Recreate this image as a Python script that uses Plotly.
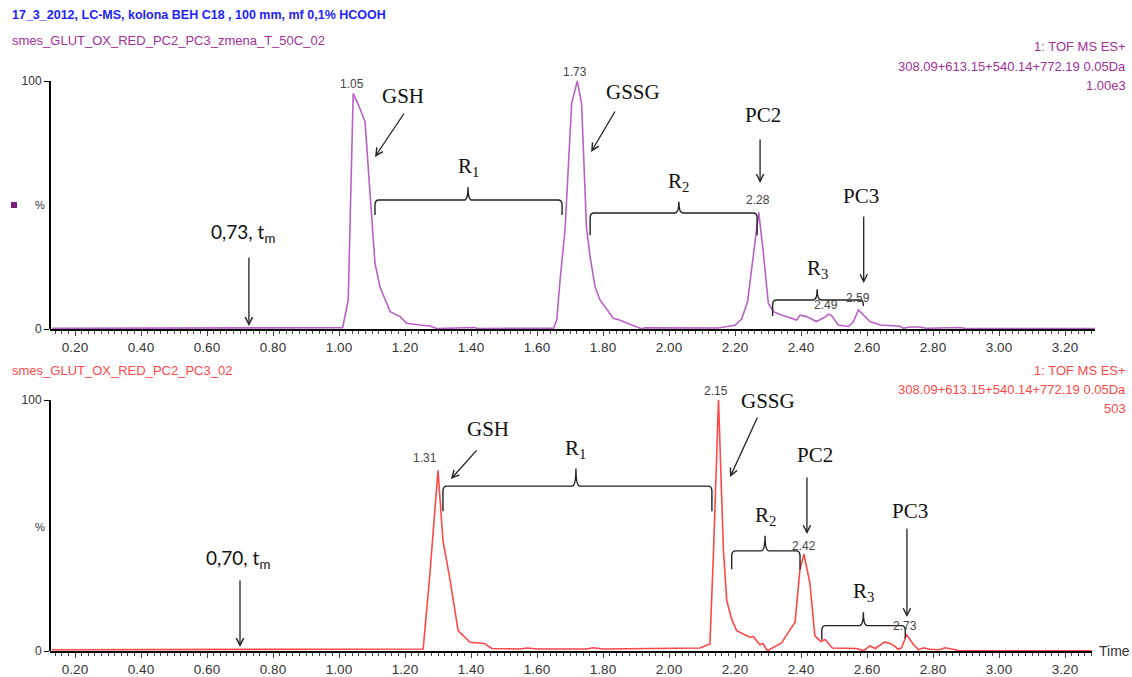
import plotly.graph_objects as go

W, H = 1132, 677

# ---------------- data ----------------
top_time = [0.13, 1.00, 1.011, 1.028, 1.033, 1.043, 1.06, 1.079, 1.094, 1.102, 1.109, 1.124,
            1.155, 1.185, 1.205, 1.245, 1.276, 1.296, 1.38, 1.41, 1.42, 1.65, 1.66, 1.67,
            1.685, 1.705, 1.722, 1.735, 1.75, 1.761, 1.776, 1.791, 1.831, 1.85, 1.887, 1.917,
            1.927, 1.98, 1.99, 2.149, 2.20, 2.22, 2.238, 2.256, 2.265, 2.272, 2.286, 2.301,
            2.316, 2.341, 2.387, 2.397, 2.417, 2.447, 2.475, 2.483, 2.492, 2.513, 2.544, 2.559,
            2.574, 2.589, 2.609, 2.64, 2.70, 2.71, 2.73, 2.76, 2.78, 2.85, 2.88, 2.90, 3.29]
top_intensity = [0.3, 0.3, 0.5, 11.7, 41, 95, 90, 83.6, 54.7, 40, 26.5, 17,
                 7, 5, 2.3, 1.6, 1.2, 0.2, 0.6, 0.6, 0.2, 0.3, 3.7, 19.8,
                 40, 91, 100, 91, 41, 29, 17, 11.7, 4.3, 3.6, 1.6, 0.1,
                 0.5, 0.5, 0.2, 0.4, 1.5, 4, 11, 30, 40, 47, 30.5, 10.4,
                 7, 5.6, 3.6, 5.6, 5, 3, 5, 6, 5.5, 1.6, 1, 3,
                 7.7, 5.6, 3, 1.6, 1.1, 0.3, 0.8, 0.8, 0.3, 0.5, 0.6, 0.2, 0.2]

bot_time = [0.13, 1.255, 1.275, 1.30, 1.315, 1.336, 1.361, 1.397, 1.44, 1.463, 1.55, 1.57,
            1.60, 1.75, 1.77, 1.80, 2.094, 2.124, 2.135, 2.15, 2.165, 2.175, 2.19, 2.205,
            2.245, 2.255, 2.276, 2.285, 2.298, 2.341, 2.362, 2.382, 2.397, 2.409, 2.427, 2.442,
            2.46, 2.473, 2.495, 2.569, 2.59, 2.609, 2.625, 2.654, 2.674, 2.695, 2.705, 2.72,
            2.74, 2.756, 2.771, 2.79, 2.82, 2.836, 2.86, 2.88, 3.282]
bot_intensity = [0.5, 0.8, 30, 72, 44, 28.7, 8.1, 3.5, 3, 1, 0.8, 1.2,
                 0.8, 0.8, 1.3, 0.8, 1.2, 2.8, 40, 100, 40, 20, 12.7, 8.1,
                 5.5, 5.8, 2.5, 3, 0.1, 3.2, 7.5, 11.5, 32.7, 38.6, 27, 6,
                 3.8, 4.6, 1.2, 1, 0.1, 2, 1, 3.6, 2.8, 0.7, 1.3, 6.6,
                 2.7, 0.5, 1.3, 0.7, 0.5, 1.3, 0.7, 0.1, 0.1]

x_tick_values = [0.2, 0.4, 0.6, 0.8, 1.0, 1.2, 1.4, 1.6, 1.8, 2.0, 2.2, 2.4, 2.6, 2.8, 3.0, 3.2]
x_tick_labels = ["0.20", "0.40", "0.60", "0.80", "1.00", "1.20", "1.40", "1.60", "1.80",
                 "2.00", "2.20", "2.40", "2.60", "2.80", "3.00", "3.20"]

# peak retention-time labels
top_peak_text = ["1.05", "1.73", "2.28", "2.49", "2.59"]
top_peak_x = [1.039, 1.715, 2.27, 2.476, 2.573]
top_peak_y = [98.8, 103.6, 52, 9.7, 12.5]
bot_peak_text = ["1.31", "2.15", "2.42", "2.73"]
bot_peak_x = [1.261, 2.142, 2.41, 2.715]
bot_peak_y = [76.9, 103.6, 41.8, 10.0]

# compound labels: text, x, y ; arrows: head x, head y, tail x, tail y
top_names = [("GSH", 1.194, 94), ("GSSG", 1.89, 95.6), ("PC2", 2.285, 86.3), ("PC3", 2.582, 53.6)]
top_arrows = [(1.109, 69.4, 1.20, 87.5), (1.764, 71.4, 1.839, 88.3), (2.276, 58.9, 2.276, 77),
              (2.59, 18.5, 2.59, 46), (0.727, 1.2, 0.727, 29.4)]
bot_names = [("GSH", 1.452, 88.4), ("GSSG", 2.30, 99.6), ("PC2", 2.442, 78), ("PC3", 2.73, 55.8)]
bot_arrows = [(1.339, 68.5, 1.421, 80.5), (2.185, 69.3, 2.27, 93.6), (2.418, 46.6, 2.418, 69.7),
              (2.721, 13.5, 2.721, 49.4), (0.70, 1.6, 0.70, 28.7)]

# resolution braces: label, x1, x2, xmid, y, left drop, right drop, tip height
top_braces = [("R<sub>1</sub>", 1.109, 1.676, 1.391, 52, 6, 6, 5.2),
              ("R<sub>2</sub>", 1.761, 2.267, 2.03, 46.8, 9, 9, 4.5),
              ("R<sub>3</sub>", 2.314, 2.589, 2.449, 11.7, 6.5, 2.4, 4.3)]
bot_braces = [("R<sub>1</sub>", 1.315, 2.13, 1.718, 65.7, 10, 10, 7),
              ("R<sub>2</sub>", 2.19, 2.397, 2.291, 39.9, 7.3, 7.3, 6),
              ("R<sub>3</sub>", 2.463, 2.716, 2.589, 10.1, 5.6, 5, 5.3)]

t0_top = ("0,73, t<sub>m</sub>", 0.709, 38.7)
t0_bot = ("0,70, t<sub>m</sub>", 0.694, 36.7)

# ---------------- styling ----------------
PURPLE = "#B961C6"
PURPLE_TXT = "#A0309A"
RED = "#FF4848"
BLUE = "#1E1EFF"
SANS = "Liberation Sans, Arial, sans-serif"
SERIF = "Liberation Serif, Times New Roman, serif"


def px_x(p):
    return p / W


def px_y(p):
    return 1 - p / H


# panel geometry (pixels)
TOP_Y0, TOP_YT = 329, 60        # y=0 row, top of panel
BOT_Y0, BOT_YT = 651, 385
TOP_SCALE, BOT_SCALE = 2.48, 2.51
X_LEFT = 50
X_OFF, X_SCALE = 9, 330.0

fig = go.Figure()
fig.add_trace(go.Scatter(x=top_time, y=top_intensity, mode="lines",
                         line=dict(color=PURPLE, width=1.6), xaxis="x", yaxis="y",
                         showlegend=False, hoverinfo="skip"))
fig.add_trace(go.Scatter(x=bot_time, y=bot_intensity, mode="lines",
                         line=dict(color=RED, width=1.6), xaxis="x2", yaxis="y2",
                         showlegend=False, hoverinfo="skip"))


def xaxis_def(right_px, anchor):
    return dict(
        domain=[px_x(X_LEFT), px_x(right_px)],
        range=[(X_LEFT - X_OFF) / X_SCALE, (right_px - X_OFF) / X_SCALE],
        anchor=anchor, showgrid=False, zeroline=False,
        showline=True, linecolor="black", linewidth=2,
        ticks="outside", ticklen=5, tickwidth=1, tickcolor="#444",
        tickmode="array", tickvals=x_tick_values, ticktext=x_tick_labels,
        tickfont=dict(family=SANS, size=13.5, color="#333"),
        minor=dict(tickmode="linear", tick0=0, dtick=0.02, ticks="outside",
                   ticklen=3, tickcolor="#444", tickwidth=1, showgrid=False),
        automargin=False, fixedrange=True,
    )


def xaxis_mid(right_px, anchor, over):
    # overlay axis carrying the longer ticks every 0.1
    return dict(
        domain=[px_x(X_LEFT), px_x(right_px)],
        range=[(X_LEFT - X_OFF) / X_SCALE, (right_px - X_OFF) / X_SCALE],
        anchor=anchor, overlaying=over, side="bottom", showgrid=False, zeroline=False,
        showline=False, showticklabels=False, ticks="outside", ticklen=5, tickwidth=1,
        tickcolor="#444", tickmode="linear", tick0=0, dtick=0.1,
        automargin=False, fixedrange=True,
    )


def yaxis_def(y0px, ytpx, scale, anchor):
    return dict(
        domain=[px_y(y0px), px_y(ytpx)],
        range=[0, (y0px - ytpx) / scale],
        anchor=anchor, showgrid=False, zeroline=False, showline=False,
        ticks="outside", ticklen=5, tickwidth=1, tickcolor="black",
        tickmode="array", tickvals=[0, 100], ticktext=["0", "100"],
        tickfont=dict(family=SANS, size=12, color="#333"),
        automargin=False, fixedrange=True,
    )


fig.update_layout(
    width=W, height=H,
    margin=dict(l=0, r=0, t=0, b=0, autoexpand=False),
    paper_bgcolor="white", plot_bgcolor="white",
    xaxis=xaxis_def(1095, "y"),
    yaxis=yaxis_def(TOP_Y0, TOP_YT, TOP_SCALE, "x"),
    xaxis2=xaxis_def(1092, "y2"),
    yaxis2=yaxis_def(BOT_Y0, BOT_YT, BOT_SCALE, "x2"),
    xaxis3=xaxis_mid(1095, "y", "x"),
    xaxis4=xaxis_mid(1092, "y2", "x2"),
)

ann = []
shapes = []

# y axis lines 0..100
for xr, yr in (("x domain", "y"), ("x2 domain", "y2")):
    shapes.append(dict(type="line", xref=xr, yref=yr, x0=0, x1=0, y0=0, y1=100,
                       line=dict(color="black", width=2)))

# header texts
ann.append(dict(text="<b>17_3_2012, LC-MS, kolona BEH C18 , 100 mm, mf 0,1% HCOOH</b>",
                x=px_x(10), y=px_y(15), xref="paper", yref="paper", xanchor="left",
                yanchor="middle", showarrow=False, font=dict(family=SANS, size=12.5, color=BLUE)))
ann.append(dict(text="smes_GLUT_OX_RED_PC2_PC3_zmena_T_50C_02",
                x=px_x(10), y=px_y(40), xref="paper", yref="paper", xanchor="left",
                yanchor="middle", showarrow=False, font=dict(family=SANS, size=13, color=PURPLE_TXT)))
ann.append(dict(text="smes_GLUT_OX_RED_PC2_PC3_02",
                x=px_x(10), y=px_y(370), xref="paper", yref="paper", xanchor="left",
                yanchor="middle", showarrow=False, font=dict(family=SANS, size=13, color=RED)))

right_top = ["1: TOF MS ES+", "308.09+613.15+540.14+772.19 0.05Da", "1.00e3"]
right_bot = ["1: TOF MS ES+", "308.09+613.15+540.14+772.19 0.05Da", "503"]
for txt, yy in zip(right_top, (47, 66, 85)):
    ann.append(dict(text=txt, x=px_x(1128), y=px_y(yy), xref="paper", yref="paper",
                    xanchor="right", yanchor="middle", showarrow=False,
                    font=dict(family=SANS, size=13, color=PURPLE_TXT)))
for txt, yy in zip(right_bot, (370, 389, 408)):
    ann.append(dict(text=txt, x=px_x(1128), y=px_y(yy), xref="paper", yref="paper",
                    xanchor="right", yanchor="middle", showarrow=False,
                    font=dict(family=SANS, size=13, color=RED)))

# % labels and marker
for yy in (205, 527):
    ann.append(dict(text="%", x=px_x(40), y=px_y(yy), xref="paper", yref="paper",
                    xanchor="center", yanchor="middle", showarrow=False,
                    font=dict(family=SANS, size=11, color="#333")))
shapes.append(dict(type="rect", xref="paper", yref="paper", x0=px_x(11), x1=px_x(17),
                   y0=px_y(208), y1=px_y(202), fillcolor="#7A1A7A", line=dict(width=0)))

# Time label
ann.append(dict(text="Time", x=px_x(1097), y=px_y(651), xref="paper", yref="paper",
                xanchor="left", yanchor="middle", showarrow=False,
                font=dict(family=SANS, size=14, color="#333")))


def add_panel(xr, yr, peak_text, peak_x, peak_y, names, arrows, braces, t0):
    for t, x, y in zip(peak_text, peak_x, peak_y):
        ann.append(dict(text=t, x=x, y=y, xref=xr, yref=yr, showarrow=False,
                        xanchor="center", yanchor="middle",
                        font=dict(family=SANS, size=12, color="#444")))
    for t, x, y in names:
        ann.append(dict(text=t, x=x, y=y, xref=xr, yref=yr, showarrow=False,
                        xanchor="center", yanchor="middle",
                        font=dict(family=SERIF, size=21, color="#111")))
    for hx, hy, tx, ty in arrows:
        ann.append(dict(text="", x=hx, y=hy, ax=tx, ay=ty, xref=xr, yref=yr,
                        axref=xr, ayref=yr, showarrow=True, arrowhead=5, arrowsize=1.1,
                        arrowwidth=1.3, arrowcolor="#222", standoff=0, startstandoff=0))
    for lab, x1, x2, xm, y, dl, dr, tip in braces:
        rx = 0.012
        ryl = min(2.0, dl)
        ryr = min(2.0, dr)
        path = (f"M {x1},{y - dl} L {x1},{y - ryl} Q {x1},{y} {x1 + rx},{y} "
                f"L {xm - rx},{y} Q {xm},{y} {xm},{y + tip} Q {xm},{y} {xm + rx},{y} "
                f"L {x2 - rx},{y} Q {x2},{y} {x2},{y - ryr} L {x2},{y - dr}")
        shapes.append(dict(type="path", path=path, xref=xr, yref=yr,
                           line=dict(color="#222", width=1.4)))
        ann.append(dict(text=lab, x=xm, y=y + tip + 2, xref=xr, yref=yr, showarrow=False,
                        xanchor="center", yanchor="bottom",
                        font=dict(family=SERIF, size=21, color="#111")))
    t, x, y = t0
    ann.append(dict(text=t, x=x, y=y, xref=xr, yref=yr, showarrow=False,
                    xanchor="center", yanchor="middle",
                    font=dict(family="Lato, Open Sans, sans-serif", size=19, color="#111")))


add_panel("x", "y", top_peak_text, top_peak_x, top_peak_y, top_names, top_arrows, top_braces, t0_top)
add_panel("x2", "y2", bot_peak_text, bot_peak_x, bot_peak_y, bot_names, bot_arrows, bot_braces, t0_bot)

fig.update_layout(annotations=ann, shapes=shapes)
fig.write_html("out.html")
